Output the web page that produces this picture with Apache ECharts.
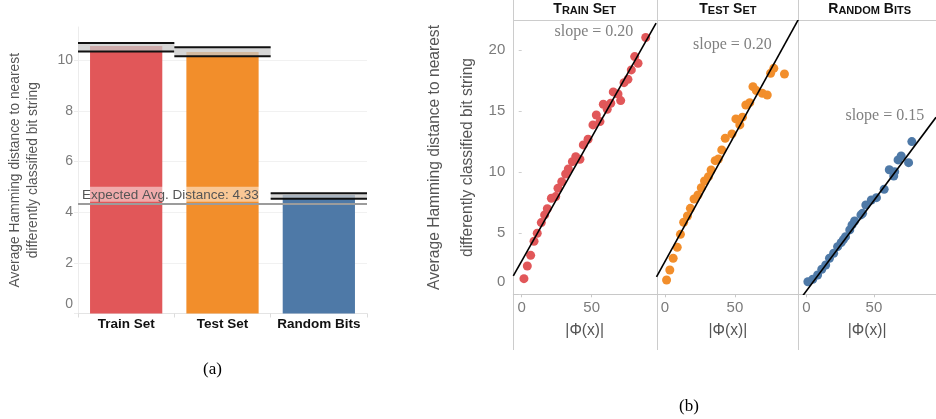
<!DOCTYPE html>
<html><head><meta charset="utf-8">
<script src="https://cdn.jsdelivr.net/npm/echarts@6/dist/echarts.min.js"></script>
<style>html,body{margin:0;padding:0;background:#fff}#c{width:936px;height:419px}</style>
</head><body><div id="c"></div>
<script>
// ---------- Panel (a): bar chart ----------
const barCategories = ['Train Set', 'Test Set', 'Random Bits'];
const barValues = [10.56, 10.32, 4.68];
const errLow = [10.34, 10.16, 4.53];
const errHigh = [10.68, 10.51, 4.75];
const expectedDistance = 4.33;
const barColors = ['#E15759', '#F28E2B', '#4E79A7'];
const barYTicks = [0, 2, 4, 6, 8, 10];

// ---------- Panel (b): scatter facets ----------
const facetTitles = ['Train Set', 'Test Set', 'Random Bits'];
const trainX = [1.6, 4.0, 6.4, 8.8, 11.1, 14.0, 16.4, 18.3, 21.2, 24.3, 25.9, 28.6, 31.4, 33.3, 36.2, 38.6, 41.6, 44.0, 47.4, 50.9, 55.9, 53.3, 58.3, 61.1, 63.6, 65.4, 70.7, 68.8, 73.1, 75.9, 78.3, 83.1, 80.7, 88.6];
const trainY = [1.28, 2.32, 3.19, 4.34, 5.0, 5.87, 6.5, 7.0, 7.86, 8.0, 8.68, 9.22, 9.85, 10.26, 10.86, 11.27, 11.06, 12.23, 12.69, 13.87, 14.14, 14.68, 15.56, 15.15, 15.64, 16.57, 15.86, 16.4, 17.33, 17.6, 18.37, 18.92, 19.46, 21.02];
const testX = [1.2, 3.5, 5.9, 8.8, 11.1, 13.4, 16.1, 18.2, 20.8, 23.6, 26.0, 28.3, 31.1, 33.0, 35.9, 38.2, 40.6, 43.1, 47.9, 50.7, 53.5, 55.4, 57.8, 60.6, 62.9, 65.3, 69.6, 73.1, 75.5, 77.8, 85.4];
const testY = [1.17, 1.99, 2.95, 3.85, 4.91, 5.9, 6.41, 7.04, 7.8, 8.13, 8.73, 9.28, 9.63, 10.18, 10.94, 11.08, 11.82, 12.78, 13.13, 14.36, 13.87, 14.5, 15.5, 15.69, 17.0, 16.68, 16.46, 16.32, 18.1, 18.5, 18.04];
const randX = [1.1, 4.7, 8.3, 11.4, 14.3, 17.1, 20.2, 23.1, 25.7, 27.4, 29.0, 32.1, 33.8, 35.7, 40.4, 41.6, 44.0, 48.1, 51.9, 57.6, 61.4, 64.7, 65.4, 67.9, 70.2, 75.7, 78.1];
const randY = [1.03, 1.23, 1.58, 2.05, 2.4, 2.95, 3.36, 3.9, 4.23, 4.48, 4.72, 5.27, 5.68, 6.0, 6.5, 6.63, 7.31, 7.72, 7.91, 8.6, 10.2, 9.69, 10.04, 11.0, 11.33, 10.78, 12.5];
const fitIntercept = [2.72, 2.67, 0.28];
const fitSlope = [0.203, 0.208, 0.148];
const slopeLabels = ['slope = 0.20', 'slope = 0.20', 'slope = 0.15'];
const slopeLabelAnchor = [[51.6, 21.46], [48.2, 20.4], [58.1, 14.6]];
const facetXTicks = [0, 50];
const facetYTicks = [0, 5, 10, 15, 20];
const facetColors = ['#E15759', '#F28E2B', '#4E79A7'];

const SANS = 'Liberation Sans, Arial, sans-serif';
const SERIF = 'Liberation Serif, Times New Roman, serif';
const chart = echarts.init(document.getElementById('c'));

const facetX = [-6, 96];
const facetYMax = 22.4;
const facetLeft = [513.3, 656.5, 798.3];
const facetW = 142.8;
const facetTop = 20.7, facetH = 273.6;

const grids = [{left: 78, top: 27, width: 289, height: 286.5}];
facetLeft.forEach(l => grids.push({left: l, top: facetTop, width: facetW, height: facetH}));

const xAxes = [{
  gridIndex: 0, type: 'category', data: barCategories,
  axisLine: {lineStyle: {color: '#e4e4e4'}},
  axisTick: {show: true, alignWithLabel: false, length: 4, lineStyle: {color: '#dcdcdc'}},
  axisLabel: {interval: 0, color: '#111', fontWeight: 'bold', fontSize: 13.5, fontFamily: SANS, margin: 4}
}];
const yAxes = [{
  gridIndex: 0, type: 'value', min: 0, max: 11.31,
  axisLine: {show: true, lineStyle: {color: '#ececec'}},
  axisTick: {show: true, length: 4, customValues: barYTicks, lineStyle: {color: '#ececec'}},
  splitLine: {lineStyle: {color: '#f1f1f1'}},
  axisLabel: {customValues: barYTicks, color: '#7b7b7b', fontSize: 14, fontFamily: SANS, margin: 5,
    formatter: v => v === 0 ? '{z|0}' : String(v), rich: {z: {padding: [0, 0, 19, 0], fontSize: 14, color: '#7b7b7b', fontFamily: SANS}}},
  name: 'Average Hamming distance to nearest\ndifferently classified bit string',
  nameLocation: 'middle', nameRotate: 90, nameGap: 36,
  nameTextStyle: {color: '#555', fontSize: 13.8, fontFamily: SANS, lineHeight: 18}
}];

for (let i = 0; i < 3; i++) {
  xAxes.push({
    gridIndex: i + 1, type: 'value', min: facetX[0], max: facetX[1],
    axisLine: {show: true, onZero: false, lineStyle: {color: '#c8c8c8'}},
    axisTick: {show: true, length: 3, customValues: facetXTicks, lineStyle: {color: '#c8c8c8'}},
    splitLine: {show: false},
    axisLabel: {customValues: facetXTicks, color: '#7b7b7b', fontSize: 15, fontFamily: SANS, margin: 6},
    name: '|Φ(x)|', nameLocation: 'middle', nameGap: 28,
    nameTextStyle: {color: '#555', fontSize: 15.6, fontFamily: SANS}
  });
  const ya = {
    gridIndex: i + 1, type: 'value', min: 0, max: facetYMax,
    axisLine: {show: false},
    axisTick: {show: i === 0, length: 3, customValues: facetYTicks, lineStyle: {color: '#cfcfcf'}},
    splitLine: {show: false},
    axisLabel: {show: i === 0, customValues: facetYTicks, color: '#7b7b7b', fontSize: 15, fontFamily: SANS, margin: 8,
      formatter: v => v === 0 ? '{z|0}' : String(v), rich: {z: {padding: [0, 0, 25, 0], fontSize: 15, color: '#7b7b7b', fontFamily: SANS}}}
  };
  if (i === 0) {
    ya.name = 'Average Hamming distance to nearest\ndifferently classified bit string';
    ya.nameLocation = 'middle'; ya.nameRotate = 90; ya.nameGap = 29;
    ya.nameTextStyle = {color: '#555', fontSize: 15.6, fontFamily: SANS, lineHeight: 33};
  }
  yAxes.push(ya);
}

const series = [];
series.push({
  type: 'bar', xAxisIndex: 0, yAxisIndex: 0, barWidth: '75%',
  data: barValues.map((v, i) => ({value: v, itemStyle: {color: barColors[i]}})),
  markLine: {
    symbol: 'none', silent: true, animation: false,
    data: [{yAxis: expectedDistance}],
    lineStyle: {color: '#9c9c9c', width: 2, type: 'solid'},
    label: {show: true, position: 'insideStartTop', distance: [2, 2],
      formatter: 'Expected Avg. Distance: ' + expectedDistance.toFixed(2),
      color: '#555', fontSize: 13.5, fontFamily: SANS,
      backgroundColor: 'rgba(255,255,255,0.5)', padding: [1, 2, 0, 2]}
  }
});
series.push({
  type: 'custom', xAxisIndex: 0, yAxisIndex: 0, z: 5,
  data: barCategories.map((c, i) => [i, errLow[i], errHigh[i]]),
  renderItem: (params, api) => {
    const lo = api.coord([api.value(0), api.value(1)]);
    const hi = api.coord([api.value(0), api.value(2)]);
    const bw = api.size([1, 0])[0];
    const x0 = lo[0] - bw / 2, x1 = lo[0] + bw / 2;
    return {type: 'group', children: [
      {type: 'rect', shape: {x: x0, y: hi[1], width: bw, height: lo[1] - hi[1]}, style: {fill: 'rgba(200,200,200,0.75)'}},
      {type: 'line', shape: {x1: x0, y1: hi[1], x2: x1, y2: hi[1]}, style: {stroke: '#111', lineWidth: 2}},
      {type: 'line', shape: {x1: x0, y1: lo[1], x2: x1, y2: lo[1]}, style: {stroke: '#111', lineWidth: 2}}
    ]};
  }
});

const facetData = [[trainX, trainY], [testX, testY], [randX, randY]];
facetData.forEach((d, i) => {
  series.push({
    type: 'scatter', xAxisIndex: i + 1, yAxisIndex: i + 1, symbolSize: 9,
    itemStyle: {color: facetColors[i], opacity: 1},
    data: d[0].map((x, k) => [x, d[1][k]])
  });
  series.push({
    type: 'line', xAxisIndex: i + 1, yAxisIndex: i + 1, clip: true, symbol: 'none', z: 4,
    lineStyle: {color: '#000', width: 1.6},
    data: facetX.map(x => [x, fitIntercept[i] + fitSlope[i] * x]),
    markPoint: {
      symbol: 'rect', symbolSize: [1, 1], itemStyle: {color: 'rgba(0,0,0,0)'}, silent: true,
      data: [{coord: slopeLabelAnchor[i], value: slopeLabels[i]}],
      label: {show: true, position: 'inside', formatter: slopeLabels[i], color: '#808080', fontSize: 16, fontFamily: SERIF}
    }
  });
});

function smallCaps(t) {
  return t.split(' ').map(w => '{a|' + w[0].toUpperCase() + '}{b|' + w.slice(1).toUpperCase() + '}').join('{a| }');
}
const titles = facetTitles.map((t, i) => ({
  text: smallCaps(t), left: facetLeft[i] + facetW / 2, top: 2, padding: 0, textAlign: 'center',
  textStyle: {rich: {
    a: {fontSize: 14, fontWeight: 'bold', color: '#111', fontFamily: SANS, verticalAlign: 'bottom'},
    b: {fontSize: 11, fontWeight: 'bold', color: '#111', fontFamily: SANS, verticalAlign: 'bottom'}
  }}
}));

const sepStyle = {stroke: '#cccccc', lineWidth: 1};
const graphic = [
  ...facetLeft.map(l => ({type: 'line', shape: {x1: Math.round(l) + 0.5, y1: 0, x2: Math.round(l) + 0.5, y2: 350}, style: sepStyle, silent: true})),
  {type: 'line', shape: {x1: facetLeft[0], y1: 20.5, x2: 936, y2: 20.5}, style: sepStyle, silent: true},
  {type: 'text', left: 203, top: 361, style: {text: '(a)', font: '17px ' + SERIF, fill: '#000'}},
  {type: 'text', left: 679, top: 398, style: {text: '(b)', font: '17px ' + SERIF, fill: '#000'}}
];

chart.setOption({
  animation: false,
  title: titles,
  grid: grids,
  xAxis: xAxes,
  yAxis: yAxes,
  series: series,
  graphic: graphic
});
</script></body></html>
